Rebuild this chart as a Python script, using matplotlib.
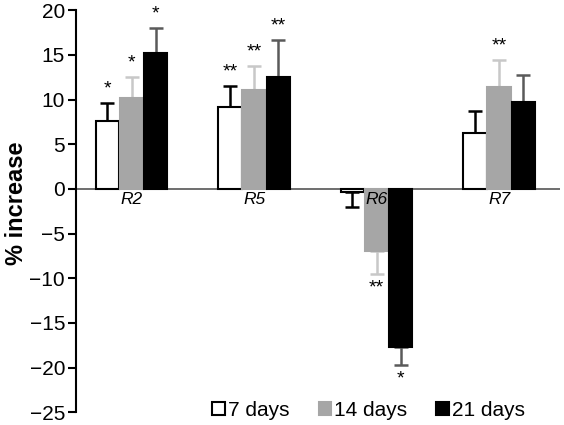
import numpy as np
import matplotlib.pyplot as plt

plt.rcParams['font.family'] = ['Liberation Sans', 'DejaVu Sans']

regions = ['R2', 'R5', 'R6', 'R7']
series = ['7 days', '14 days', '21 days']

day7 = [7.6, 9.15, -0.3, 6.2]
day14 = [10.2, 11.1, -6.95, 11.35]
day21 = [15.25, 12.5, -17.75, 9.75]

err7 = [2.0, 2.35, 1.7, 2.55]
err14 = [2.3, 2.65, 2.6, 3.1]
err21 = [2.8, 4.2, 1.95, 3.0]

stars7 = ['*', '**', '', '']
stars14 = ['*', '**', '**', '**']
stars21 = ['*', '**', '*', '']

values = [day7, day14, day21]
errors = [err7, err14, err21]
stars = [stars7, stars14, stars21]

face = ['white', '#a6a6a6', 'black']
edge = ['black', '#a6a6a6', 'black']
ecolor = ['black', '#c8c8c8', '#5a5a5a']

fig = plt.figure(figsize=(5.64, 4.25), dpi=100)
ax = fig.add_axes([0.135, 0.03, 0.858, 0.946])

x = np.arange(len(regions))
width = 0.19
step = 0.197

ax.axhline(0, color='#555555', lw=1.2, zorder=1)

for i in range(3):
    xs = x + (i - 1) * step
    vals = np.array(values[i])
    errs = np.array(errors[i])
    lower = np.where(vals < 0, errs, 0)
    upper = np.where(vals >= 0, errs, 0)
    ax.bar(xs, vals, width, color=face[i], edgecolor=edge[i], linewidth=1.5,
           label=series[i], zorder=3)
    ax.errorbar(xs, vals, yerr=[lower, upper], fmt='none', ecolor=ecolor[i],
                elinewidth=1.8, capsize=5, capthick=1.8, zorder=2)
    for xx, v, e, s in zip(xs, vals, errs, stars[i]):
        if not s:
            continue
        if v >= 0:
            ax.text(xx, v + e + 0.6, s, ha='center', va='bottom', fontsize=14)
        else:
            ax.text(xx, v - e - 0.6, s, ha='center', va='top', fontsize=14)

for xx, name in zip(x, regions):
    ax.text(xx, -0.4, name, ha='center', va='top', fontsize=12.5, style='italic')

ax.set_xlim(-0.453, 3.498)
ax.set_ylim(-25, 20)
ax.set_yticks(np.arange(-25, 21, 5))
ax.set_xticks([])
for side in ['top', 'right', 'bottom']:
    ax.spines[side].set_visible(False)
ax.spines['left'].set_linewidth(1.5)
ax.tick_params(axis='y', labelsize=15, width=1.5, length=6, pad=2)
ax.set_ylabel('% increase', fontsize=17, fontweight='bold')
ax.yaxis.set_label_coords(-0.1, 0.52)

ax.legend(loc='lower right', bbox_to_anchor=(0.945, -0.04), ncol=3,
          frameon=False, fontsize=15, handlelength=0.6, handleheight=0.6,
          handletextpad=0.15, columnspacing=1.4, borderaxespad=0)

fig.savefig('out.png', dpi=100)
